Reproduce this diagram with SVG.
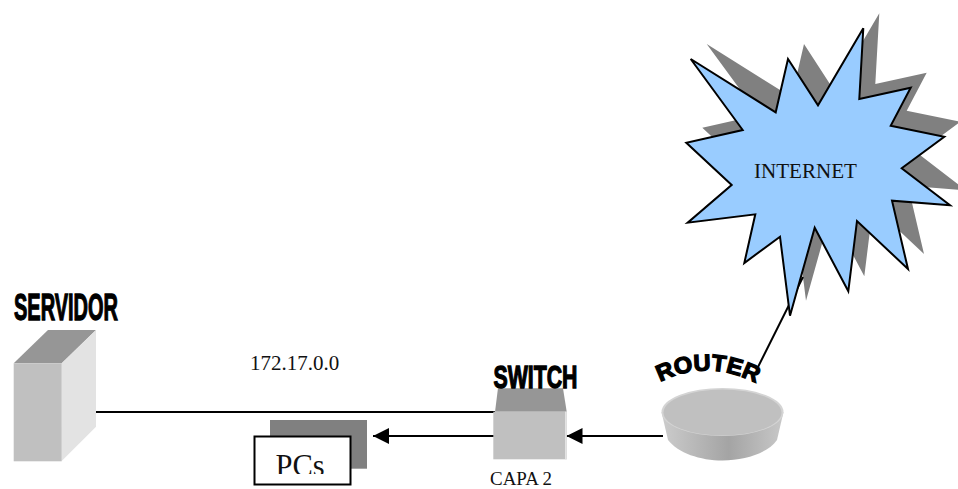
<svg xmlns="http://www.w3.org/2000/svg" xmlns:xlink="http://www.w3.org/1999/xlink" width="958" height="489" viewBox="0 0 958 489">
<style>
.serif{font-family:"Liberation Serif","Times New Roman",serif;fill:#111}
.heavy{font-family:"Liberation Sans",Arial,sans-serif;font-weight:bold;fill:#000;stroke:#000;stroke-width:1.300}
.wire{stroke:#000;stroke-width:2;fill:none}
.front{fill:#c0c0c0}
.top{fill:#969696}
.side{fill:#e3e3e3}
</style>
<defs>
<marker id="arrow" markerUnits="userSpaceOnUse" markerWidth="16" markerHeight="16" refX="16" refY="8" orient="auto"><path d="M0 0L16 8L0 16Z" fill="#000"/></marker>
<polygon id="starShape" points="690.7,59 775.7,112.3 788,59 818,105.3 863.3,28.3 859.3,99 910.7,87.7 890.7,125.7 944.3,136.7 901.7,168.3 950,205.3 892,200.7 908,269 857,221 848.3,291.3 814.700,227.700 790,315.700 780,236.700 744.300,263 755.300,214.300 687.700,222.700 731.700,185 686.300,142.700 742.700,130"/>
<linearGradient id="rg" x1="0" x2="1" y1="0" y2="0"><stop offset="0" stop-color="#cccccc"/><stop offset=".55" stop-color="#a4a4a4"/><stop offset="1" stop-color="#c8c8c8"/></linearGradient>
<clipPath id="pcClip"><rect x="255" y="437" width="95" height="37"/></clipPath>
<path id="routerArc" d="M660 382Q707 358 758 384"/>
</defs>
<rect width="958" height="489" fill="#fff"/>
<g id="internet-shadow"><use xlink:href="#starShape" href="#starShape" transform="translate(16,-15)" fill="#808080"/></g>
<g id="connectors">
<line class="wire" x1="96" y1="412" x2="495" y2="412"/>
<line class="wire" x1="495" y1="436" x2="373" y2="436" marker-end="url(#arrow)"/>
<line class="wire" x1="663" y1="436" x2="566.500" y2="436" marker-end="url(#arrow)"/>
<line class="wire" x1="758" y1="367" x2="803" y2="277"/>
</g>
<g id="internet">
<use xlink:href="#starShape" href="#starShape" fill="#99ccff" stroke="#000" stroke-width="2" stroke-linejoin="miter"/>
<text class="serif" x="754" y="177.500" font-size="20.500" textLength="103" lengthAdjust="spacingAndGlyphs">INTERNET</text>
</g>
<g id="servidor">
<polygon class="top" points="13.700,363.300 48,330 96,330 61.700,363.300"/>
<polygon class="side" points="61.700,363.300 96,330 96,426.700 61.700,461"/>
<rect class="front" x="13.700" y="363.300" width="48" height="98"/>
<text class="heavy" x="14" y="320" font-size="37" textLength="104" lengthAdjust="spacingAndGlyphs">SERVIDOR</text>
</g>
<text class="serif" x="250" y="370" font-size="21">172.17.0.0</text>
<g id="pcs">
<rect x="270" y="420" width="97" height="48.700" fill="#808080"/>
<rect x="254.500" y="436.500" width="96" height="48" fill="#fff" stroke="#000" stroke-width="2"/>
<text class="serif" x="275.500" y="476" font-size="30.500" clip-path="url(#pcClip)">PCs</text>
</g>
<g id="switch">
<polygon class="top" points="495,411.700 498,388.300 563,388.300 566.700,411.700"/>
<rect class="front" x="493.300" y="411.700" width="73.400" height="47.600"/>
<rect class="side" x="565" y="411.700" width="1.700" height="47.600"/>
<text class="heavy" x="493.500" y="388" font-size="32" textLength="84" lengthAdjust="spacingAndGlyphs">SWITCH</text>
<text class="serif" x="490" y="485" font-size="18" textLength="62" lengthAdjust="spacingAndGlyphs">CAPA 2</text>
</g>
<g id="router">
<path d="M661.500 412L668 440C678 453 700 460.500 722.500 460.500C745 460.500 768 453 777 440L783.500 412Z" fill="url(#rg)"/>
<ellipse cx="722.500" cy="412" rx="61" ry="24" fill="#d4d4d4"/>
<ellipse cx="722.500" cy="412.500" rx="59" ry="23" fill="#c0c0c0"/>
<text class="heavy" font-size="23"><textPath xlink:href="#routerArc" href="#routerArc" textLength="100" lengthAdjust="spacingAndGlyphs">ROUTER</textPath></text>
</g>
</svg>
